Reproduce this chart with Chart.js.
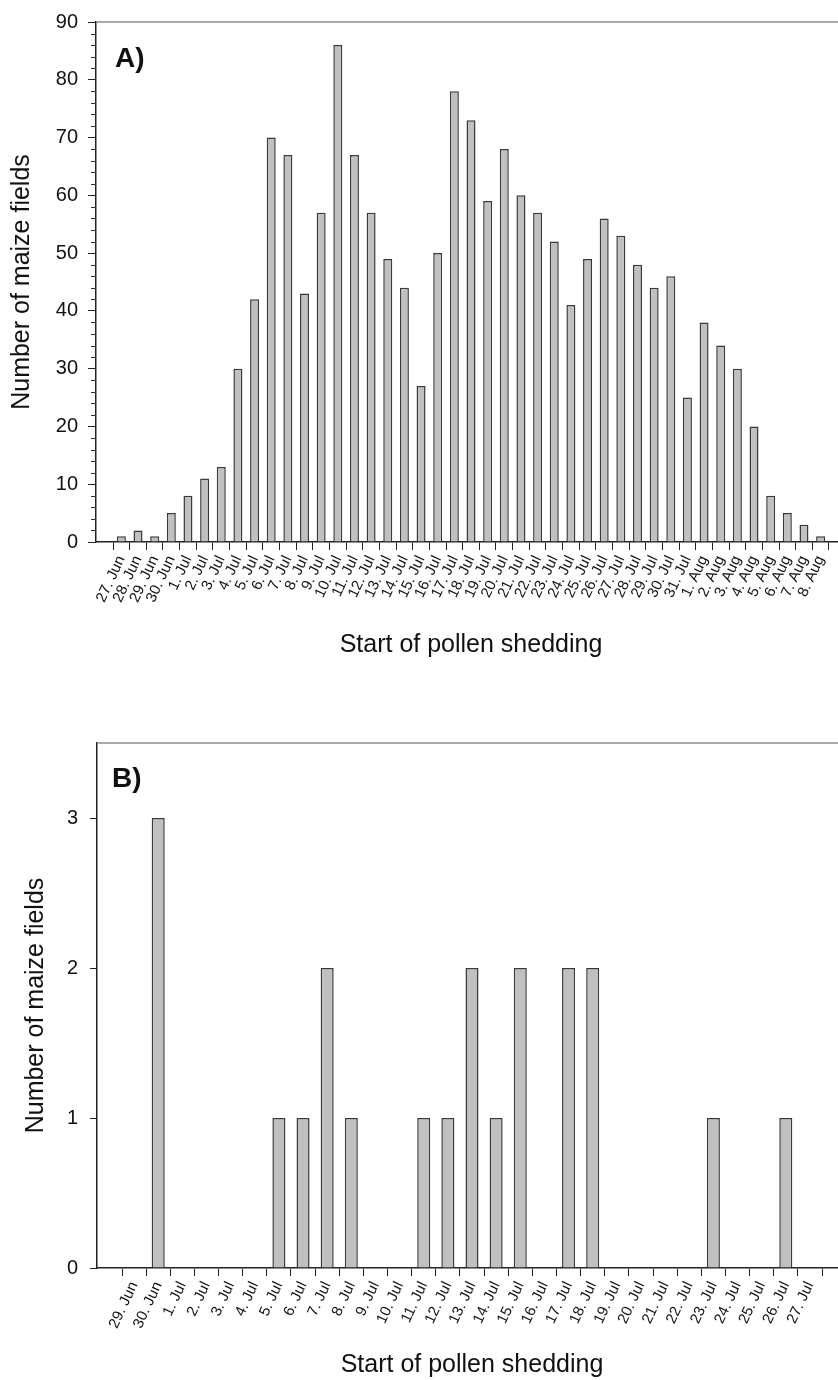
<!DOCTYPE html>
<html>
<head>
<meta charset="utf-8">
<title>Start of pollen shedding</title>
<script src="https://cdn.jsdelivr.net/npm/chart.js@4.4.1/dist/chart.umd.min.js"></script>
<style>
  html, body { margin: 0; padding: 0; background: #fff; }
  body { width: 838px; height: 1380px; overflow: hidden; position: relative; }
  canvas { position: absolute; left: 0; }
  #grafico_a { top: 0; }
  #grafico_b { top: 700px; }
</style>
</head>
<body>
<canvas id="grafico_a" width="846" height="660"></canvas>
<canvas id="grafico_b" width="847" height="680"></canvas>
<script>
// panel A
var diasA = ['27. Jun', '28. Jun', '29. Jun', '30. Jun',
  '1. Jul', '2. Jul', '3. Jul', '4. Jul', '5. Jul', '6. Jul', '7. Jul', '8. Jul', '9. Jul', '10. Jul',
  '11. Jul', '12. Jul', '13. Jul', '14. Jul', '15. Jul', '16. Jul', '17. Jul', '18. Jul', '19. Jul', '20. Jul',
  '21. Jul', '22. Jul', '23. Jul', '24. Jul', '25. Jul', '26. Jul', '27. Jul', '28. Jul', '29. Jul', '30. Jul',
  '31. Jul', '1. Aug', '2. Aug', '3. Aug', '4. Aug', '5. Aug', '6. Aug', '7. Aug', '8. Aug'];
var camposA = [1, 2, 1, 5,
  8, 11, 13, 30, 42, 70, 67, 43, 57, 86,
  67, 57, 49, 44, 27, 50, 78, 73, 59, 68,
  60, 57, 52, 41, 49, 56, 53, 48, 44, 46,
  25, 38, 34, 30, 20, 8, 5, 3, 1];
var ticksA = [0, 10, 20, 30, 40, 50, 60, 70, 80, 90];

// panel B
var diasB = ['29. Jun', '30. Jun',
  '1. Jul', '2. Jul', '3. Jul', '4. Jul', '5. Jul', '6. Jul', '7. Jul', '8. Jul', '9. Jul', '10. Jul',
  '11. Jul', '12. Jul', '13. Jul', '14. Jul', '15. Jul', '16. Jul', '17. Jul', '18. Jul', '19. Jul', '20. Jul',
  '21. Jul', '22. Jul', '23. Jul', '24. Jul', '25. Jul', '26. Jul', '27. Jul'];
var camposB = [0, 3,
  0, 0, 0, 0, 1, 1, 2, 1, 0, 0,
  1, 1, 2, 1, 2, 0, 2, 2, 0, 0,
  0, 0, 1, 0, 0, 1, 0];
var ticksB = [0, 1, 2, 3];

var fonte = '"Liberation Sans", Arial, Helvetica, sans-serif';

// top frame line, minor ticks and the panel letter
var enfeites = {
  id: 'enfeites',
  afterDraw: function (chart, args, op) {
    var ctx = chart.ctx;
    var area = chart.chartArea;
    ctx.save();
    ctx.strokeStyle = '#8c8c8c';
    ctx.lineWidth = 1.5;
    ctx.beginPath();
    ctx.moveTo(area.left, area.top);
    ctx.lineTo(area.right, area.top);
    ctx.stroke();

    if (op.passoMenor) {
      var y = chart.scales.y;
      ctx.strokeStyle = '#333';
      ctx.lineWidth = 1;
      ctx.beginPath();
      for (var v = y.min; v <= y.max; v += op.passoMenor) {
        if (v % op.passoMaior === 0) continue;
        var py = Math.round(y.getPixelForValue(v)) + 0.5;
        ctx.moveTo(y.right - 5, py);
        ctx.lineTo(y.right, py);
      }
      ctx.stroke();
    }

    ctx.fillStyle = '#111';
    ctx.font = 'bold 28px ' + fonte;
    ctx.textBaseline = 'alphabetic';
    ctx.fillText(op.letra, area.left + op.dx, area.top + op.dy);
    ctx.restore();
  }
};

function plotarHistograma(id, dias, campos, marcas, cfg) {
  return new Chart(document.getElementById(id), {
    type: 'bar',
    data: {
      datasets: [{
        data: campos.map(function (v, i) { return { x: i, y: v }; }),
        backgroundColor: '#c0c0c0',
        borderColor: '#3a3a3a',
        borderWidth: 1.5,
        inflateAmount: 0,
        barPercentage: 0.54,
        categoryPercentage: 1
      }]
    },
    options: {
      responsive: false,
      animation: false,
      events: [],
      layout: { padding: { top: cfg.topo, left: 0, right: 0, bottom: 0 } },
      plugins: {
        legend: { display: false },
        tooltip: { enabled: false },
        enfeites: cfg.enfeites
      },
      scales: {
        x: {
          type: 'linear',
          min: -1,
          max: dias.length,
          afterBuildTicks: function (s) { s.ticks = dias.map(function (d, i) { return { value: i }; }); },
          afterFit: function (s) { s.height = cfg.alturaX; },
          grid: { drawOnChartArea: false, tickLength: 8, tickColor: '#222', tickWidth: 1 },
          border: { color: '#222', width: 1.5 },
          ticks: {
            autoSkip: false,
            minRotation: 65,
            maxRotation: 65,
            padding: 3,
            color: '#111',
            font: { family: fonte, size: 15 },
            callback: function (v) { return dias[v]; }
          },
          title: {
            display: true,
            text: 'Start of pollen shedding',
            color: '#111',
            font: { family: fonte, size: 25 },
            padding: { top: 0, bottom: 0 }
          }
        },
        y: {
          min: 0,
          max: cfg.maxY,
          afterBuildTicks: function (s) { s.ticks = marcas.map(function (v) { return { value: v }; }); },
          afterFit: function (s) { s.width = cfg.larguraY; },
          grid: { drawOnChartArea: false, tickLength: cfg.tickY, tickColor: '#222', tickWidth: 1 },
          border: { color: '#222', width: 1.5 },
          ticks: {
            padding: cfg.padY,
            color: '#111',
            font: { family: fonte, size: 20 }
          },
          title: {
            display: true,
            text: 'Number of maize fields',
            color: '#111',
            font: { family: fonte, size: 25 },
            padding: { top: cfg.padTitulo, bottom: 0 }
          }
        }
      }
    },
    plugins: [enfeites]
  });
}

plotarHistograma('grafico_a', diasA, camposA, ticksA, {
  topo: 17, maxY: 90, alturaX: 118, larguraY: 96, tickY: 8, padY: 10, padTitulo: 7,
  enfeites: { letra: 'A)', dx: 19, dy: 45, passoMenor: 2, passoMaior: 10 }
});

plotarHistograma('grafico_b', diasB, camposB, ticksB, {
  topo: 43, maxY: 3.5, alturaX: 112, larguraY: 97, tickY: 7, padY: 12, padTitulo: 21,
  enfeites: { letra: 'B)', dx: 15, dy: 44 }
});
</script>
</body>
</html>
